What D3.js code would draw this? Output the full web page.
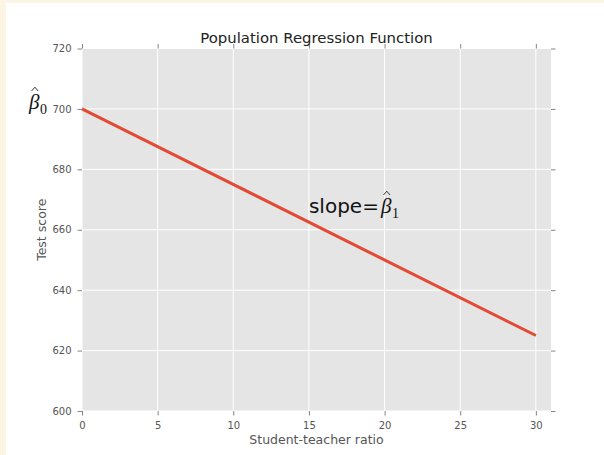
<!DOCTYPE html>
<html><head><meta charset="utf-8">
<script src="https://cdn.jsdelivr.net/npm/d3@7"></script>
<style>
html,body{margin:0;padding:0;background:#fff;}
svg{display:block;}
</style></head>
<body>
<script>
// Data
const xValues = [0, 30];          // student-teacher ratio
const yValues = [700, 625];       // test score on population regression line
const xTicks = [0, 5, 10, 15, 20, 25, 30];
const yTicks = [600, 620, 640, 660, 680, 700, 720];
const xDomain = [0, 31];
const yDomain = [600, 720];
const titleText = "Population Regression Function";
const xLabelText = "Student-teacher ratio";
const yLabelText = "Test score";

const W = 604, H = 455;
const svg = d3.select("body").append("svg").attr("width", W).attr("height", H);

// page border
svg.append("rect").attr("x",0).attr("y",0).attr("width",W).attr("height",H).attr("fill","#fcf5e3");
svg.append("rect").attr("x",6).attr("y",3).attr("width",W-6).attr("height",H-3).attr("fill","#ffffff");

const L = 82, R = 551, T = 48.5, B = 411;
const x = d3.scaleLinear().domain(xDomain).range([L, R]);
const y = d3.scaleLinear().domain(yDomain).range([B, T]);

svg.append("rect").attr("x",L).attr("y",T).attr("width",R-L).attr("height",B-T).attr("fill","#E5E5E5");

// grid
const g = svg.append("g");
g.selectAll(".vg").data(xTicks).join("line")
  .attr("x1",d=>x(d)).attr("x2",d=>x(d)).attr("y1",T).attr("y2",B)
  .attr("stroke","#fff").attr("stroke-width",1);
g.selectAll(".hg").data(yTicks).join("line")
  .attr("y1",d=>y(d)).attr("y2",d=>y(d)).attr("x1",L).attr("x2",R)
  .attr("stroke","#fff").attr("stroke-width",1);

const tickColor = "#666";
const fontSans = "DejaVu Sans, sans-serif";

function styleAxis(sel){
  sel.select(".domain").remove();
  sel.selectAll(".tick line").attr("stroke",tickColor).attr("stroke-width",0.8);
  sel.selectAll(".tick text").attr("fill","#555").style("font-family",fontSans).style("font-size","10px");
}
// bottom axis
svg.append("g").attr("transform",`translate(0,${B})`)
  .call(d3.axisBottom(x).tickValues(xTicks).tickSize(4.5).tickPadding(6).tickFormat(d3.format("d")))
  .call(styleAxis);
// top ticks
svg.append("g").attr("transform",`translate(0,${T})`)
  .call(d3.axisTop(x).tickValues(xTicks).tickSize(4.5).tickFormat(""))
  .call(styleAxis);
// left axis
svg.append("g").attr("transform",`translate(${L},0)`)
  .call(d3.axisLeft(y).tickValues(yTicks).tickSize(4.5).tickPadding(6).tickFormat(d3.format("d")))
  .call(styleAxis);
// right ticks
svg.append("g").attr("transform",`translate(${R},0)`)
  .call(d3.axisRight(y).tickValues(yTicks).tickSize(4.5).tickFormat(""))
  .call(styleAxis);

// regression line
const pts = xValues.map((v,i)=>[v, yValues[i]]);
svg.append("path").datum(pts)
  .attr("d", d3.line().x(d=>x(d[0])).y(d=>y(d[1])))
  .attr("fill","none").attr("stroke","#E24A33").attr("stroke-width",3);

// title
svg.append("text").attr("x",(L+R)/2).attr("y",43).attr("text-anchor","middle")
  .style("font-family",fontSans).style("font-size","14.9px").attr("fill","#222").text(titleText);
// x label
svg.append("text").attr("x",(L+R)/2).attr("y",444).attr("text-anchor","middle")
  .style("font-family",fontSans).style("font-size","12.5px").attr("fill","#555").text(xLabelText);
// y label
svg.append("text").attr("transform",`translate(46,${(T+B)/2}) rotate(-90)`).attr("text-anchor","middle")
  .style("font-family",fontSans).style("font-size","12.5px").attr("fill","#555").text(yLabelText);

// beta hat with subscript; the hat is drawn as a small path over the beta
const serif = "Liberation Serif, DejaVu Serif, serif";
function betaHat(px, py, sub){
  const b = svg.append("text").attr("x",px).attr("y",py).attr("fill","#111")
    .style("font-family",serif).style("font-style","italic").style("font-size","21px").text("\u03B2");
  const bw = b.node().getComputedTextLength();
  const cx = px + bw*0.56;
  svg.append("path")
    .attr("d", `M${cx-3.3},${py-18} L${cx},${py-21.8} L${cx+3.3},${py-18}`)
    .attr("fill","none").attr("stroke","#222").attr("stroke-width",0.9);
  svg.append("text").attr("x",px + bw + 0.5).attr("y",py + 4.5).attr("fill","#111")
    .style("font-family",serif).style("font-size","14px").text(sub);
}
betaHat(29, 109, "0");

// slope annotation
const s = svg.append("text").attr("x",x(15)).attr("y",213).attr("fill","#111")
  .style("font-family",fontSans).style("font-size","20px").text("slope=");
const sw = s.node().getComputedTextLength();
betaHat(x(15) + sw + 2, 213, "1");
</script>
</body></html>
